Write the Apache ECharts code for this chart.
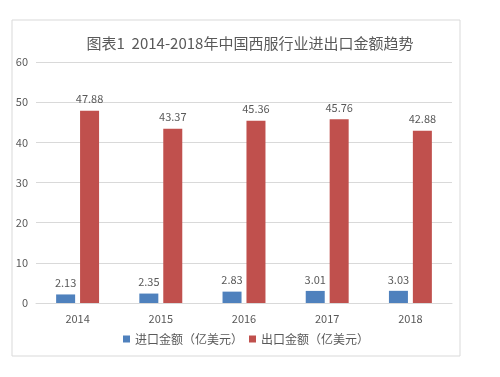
<!DOCTYPE html>
<html><head><meta charset="utf-8">
<script src="https://cdn.jsdelivr.net/npm/echarts@6/dist/echarts.min.js"></script>
<style>html,body{margin:0;padding:0;background:#fff}#c{width:500px;height:377px}</style>
</head><body><div id="c"></div>
<script>
const categories = ['2014','2015','2016','2017','2018'];
const importValues = [2.13, 2.35, 2.83, 3.01, 3.03];
const exportValues = [47.88, 43.37, 45.36, 45.76, 42.88];
const yTicks = [0, 10, 20, 30, 40, 50, 60];
const chart = echarts.init(document.getElementById('c'));
const font = '"Noto Sans CJK SC", "Open Sans", sans-serif';
chart.setOption({
  animation: false,
  backgroundColor: '#fff',
  graphic: [{type:'rect', shape:{x:12,y:20,width:448,height:336}, style:{fill:'none', stroke:'#d9d9d9', lineWidth:1}}],
  title: {text: '图表1  2014-2018年中国西服行业进出口金额趋势', left: 245, textAlign: 'center', top: 31,
    textStyle: {color:'#595959', fontSize: 15, fontWeight: 'normal', fontFamily: font}},
  legend: {bottom: 27, left: 118, itemWidth: 7, itemHeight: 7, itemGap: 6,
    icon: 'rect', textStyle: {color:'#595959', fontSize: 12, fontFamily: font},
    data: ['进口金额（亿美元）','出口金额（亿美元）']},
  grid: {left: 36, right: 48, top: 62, bottom: 74},
  xAxis: {type:'category', data: categories,
    axisLine:{lineStyle:{color:'#d9d9d9'}}, axisTick:{show:false},
    axisLabel:{color:'#595959', fontSize:11, margin:10, fontFamily: font}},
  yAxis: {type:'value', min: yTicks[0], max: yTicks[yTicks.length-1], interval: 10,
    axisLine:{show:false}, axisTick:{show:false},
    splitLine:{lineStyle:{color:'#d9d9d9'}},
    axisLabel:{color:'#595959', fontSize:11, margin:8, fontFamily: font}},
  series: [
    {name:'进口金额（亿美元）', type:'bar', data: importValues, barWidth: 19, barGap: '26%',
     itemStyle:{color:'#4F81BD'},
     label:{show:true, position:'top', color:'#595959', fontSize:11, distance:6, fontFamily: font}},
    {name:'出口金额（亿美元）', type:'bar', data: exportValues, barWidth: 19,
     itemStyle:{color:'#C0504D'},
     label:{show:true, position:'top', color:'#595959', fontSize:11, distance:6, fontFamily: font}}
  ]
});
</script></body></html>
